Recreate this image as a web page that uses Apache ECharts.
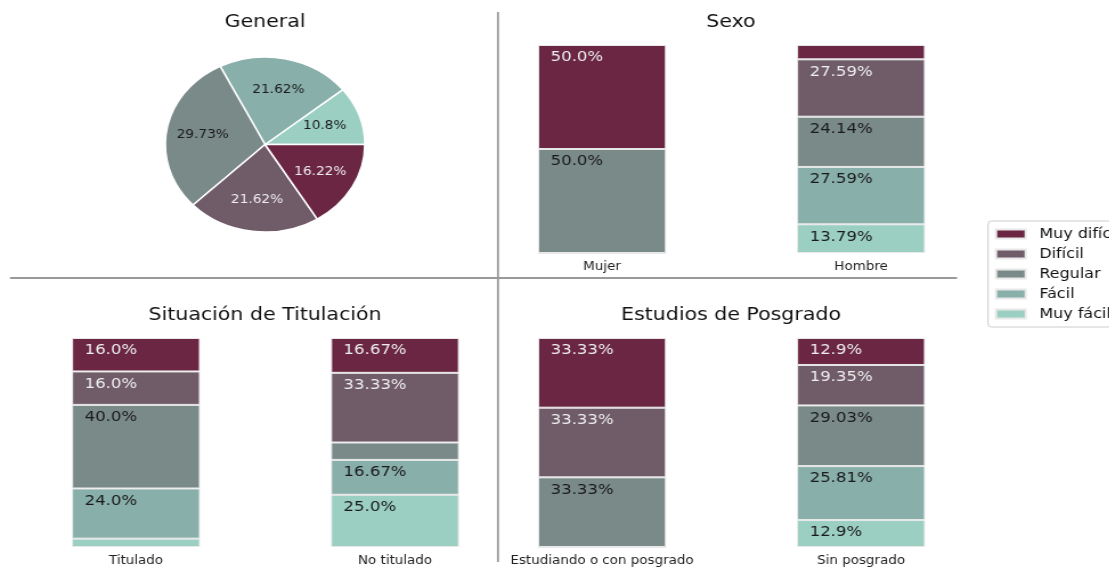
<!DOCTYPE html>
<html>
<head>
<meta charset="utf-8">
<script src="https://cdn.jsdelivr.net/npm/echarts@6/dist/echarts.min.js"></script>
<style>
  html, body { margin: 0; padding: 0; background: #fff; overflow: hidden; }
  /* la figura original está estirada en horizontal */
  #chart { width: 973px; height: 567px; transform: scaleX(1.14); transform-origin: 0 0; }
</style>
</head>
<body>
<div id="chart"></div>
<script>
// niveles de dificultad (orden de la leyenda)
var levels = ['Muy difícil', 'Difícil', 'Regular', 'Fácil', 'Muy fácil'];
var levelColors = ['#6a2642', '#705b68', '#7a8a89', '#88afaa', '#9acfc2'];

// General (pastel)
var generalValues = [16.22, 21.62, 29.73, 21.62, 10.8];

// Sexo: un array por nivel, [Mujer, Hombre]
var sexoCats = ['Mujer', 'Hombre'];
var sexoMuyDificil = [50.0, 6.9];
var sexoDificil = [0, 27.59];
var sexoRegular = [50.0, 24.14];
var sexoFacil = [0, 27.59];
var sexoMuyFacil = [0, 13.79];

// Situación de Titulación
var tituloCats = ['Titulado', 'No titulado'];
var tituloMuyDificil = [16.0, 16.67];
var tituloDificil = [16.0, 33.33];
var tituloRegular = [40.0, 8.33];
var tituloFacil = [24.0, 16.67];
var tituloMuyFacil = [4.0, 25.0];

// Estudios de Posgrado
var posgradoCats = ['Estudiando o con posgrado', 'Sin posgrado'];
var posgradoMuyDificil = [33.33, 12.9];
var posgradoDificil = [33.33, 19.35];
var posgradoRegular = [33.33, 29.03];
var posgradoFacil = [0, 25.81];
var posgradoMuyFacil = [0, 12.9];

var FONT = 'DejaVu Sans';

var fmtPct = function (v) {
    var r = Math.round(v * 100) / 100;
    var s = String(r);
    if (s.indexOf('.') < 0) {
        s += '.0';
    }
    return s + '%';
};

var labelColor = function (i) {
    return i < 2 ? '#eeeeee' : '#1a1a1a';
};

var myChart = echarts.init(document.getElementById('chart'));

var panels = [
    {cats: sexoCats, data: [sexoMuyDificil, sexoDificil, sexoRegular, sexoFacil, sexoMuyFacil],
        grid: {left: 414.5, top: 45, width: 454.4, height: 208}},
    {cats: tituloCats, data: [tituloMuyDificil, tituloDificil, tituloRegular, tituloFacil, tituloMuyFacil],
        grid: {left: 5.7, top: 338, width: 454.4, height: 209}},
    {cats: posgradoCats, data: [posgradoMuyDificil, posgradoDificil, posgradoRegular, posgradoFacil, posgradoMuyFacil],
        grid: {left: 414.5, top: 338, width: 454.4, height: 209}}
];

var grids = [], xAxes = [], yAxes = [], series = [];

panels.forEach(function (p, gi) {
    grids.push(p.grid);
    xAxes.push({
        type: 'category',
        gridIndex: gi,
        data: p.cats,
        axisLine: {show: false},
        axisTick: {show: false},
        axisLabel: {fontFamily: FONT, fontSize: 11.8, color: '#222', margin: 8}
    });
    yAxes.push({type: 'value', gridIndex: gi, min: 0, max: 100, show: false});
    // apilar desde abajo: Muy fácil primero
    for (var i = levels.length - 1; i >= 0; --i) {
        (function (i) {
            series.push({
                name: levels[i],
                type: 'bar',
                stack: 'p' + gi,
                xAxisIndex: gi,
                yAxisIndex: gi,
                barWidth: 112.3,
                data: p.data[i],
                itemStyle: {color: levelColors[i], borderColor: '#e8e8e8', borderWidth: 1},
                label: {
                    show: true,
                    position: [11, 5],
                    fontFamily: FONT,
                    fontSize: 14.5,
                    color: labelColor(i),
                    formatter: function (prm) {
                        return prm.value >= 10 ? fmtPct(prm.value) : '';
                    }
                },
                emphasis: {disabled: true}
            });
        })(i);
    }
});

// pastel: sentido antihorario desde el este, Muy fácil primero
var pieData = [], pieLabelData = [];
for (var k = levels.length - 1; k >= 0; --k) {
    pieData.push({
        name: levels[k],
        value: generalValues[k],
        itemStyle: {color: levelColors[k]}
    });
    pieLabelData.push({
        name: levels[k],
        value: generalValues[k],
        label: {color: labelColor(k)}
    });
}
series.push({
    type: 'pie',
    center: [232.5, 144.5],
    radius: [0, 87.5],
    startAngle: 0,
    clockwise: false,
    data: pieData,
    itemStyle: {borderColor: '#ffffff', borderWidth: 1.5},
    label: {show: false},
    labelLine: {show: false},
    emphasis: {disabled: true}
});
// etiquetas al 60% del radio
series.push({
    type: 'pie',
    center: [232.5, 144.5],
    radius: [0, 105],
    startAngle: 0,
    clockwise: false,
    data: pieLabelData,
    itemStyle: {color: 'transparent'},
    label: {
        position: 'inside',
        fontFamily: FONT,
        fontSize: 12,
        formatter: function (prm) {
            return fmtPct(prm.value);
        }
    },
    labelLine: {show: false},
    emphasis: {disabled: true},
    silent: true
});

var titleStyle = {fontFamily: FONT, fontSize: 18, fontWeight: 'normal', color: '#111'};

var option = {
    animation: false,
    title: [
        {text: 'General', left: 227.5, top: 8, textAlign: 'center', textStyle: titleStyle},
        {text: 'Sexo', left: 636.2, top: 8, textAlign: 'center', textStyle: titleStyle},
        {text: 'Situación de Titulación', left: 227.5, top: 301, textAlign: 'center', textStyle: titleStyle},
        {text: 'Estudios de Posgrado', left: 636.2, top: 301, textAlign: 'center', textStyle: titleStyle}
    ],
    legend: {
        data: levels,
        orient: 'vertical',
        left: 866.7,
        top: 221,
        icon: 'rect',
        itemWidth: 26,
        itemHeight: 9,
        itemGap: 6,
        padding: [6, 10, 6, 6],
        borderColor: '#cccccc',
        borderWidth: 1,
        borderRadius: 3,
        selectedMode: false,
        textStyle: {fontFamily: FONT, fontSize: 14, color: '#111', padding: [0, 0, 0, 7]}
    },
    grid: grids,
    xAxis: xAxes,
    yAxis: yAxes,
    series: series,
    graphic: [
        {type: 'line', shape: {x1: 436.8, y1: 12, x2: 436.8, y2: 562}, style: {stroke: '#999', lineWidth: 1.8}},
        {type: 'line', shape: {x1: 8.8, y1: 278, x2: 839.5, y2: 278}, style: {stroke: '#999', lineWidth: 2}}
    ]
};
myChart.setOption(option);
</script>
</body>
</html>
